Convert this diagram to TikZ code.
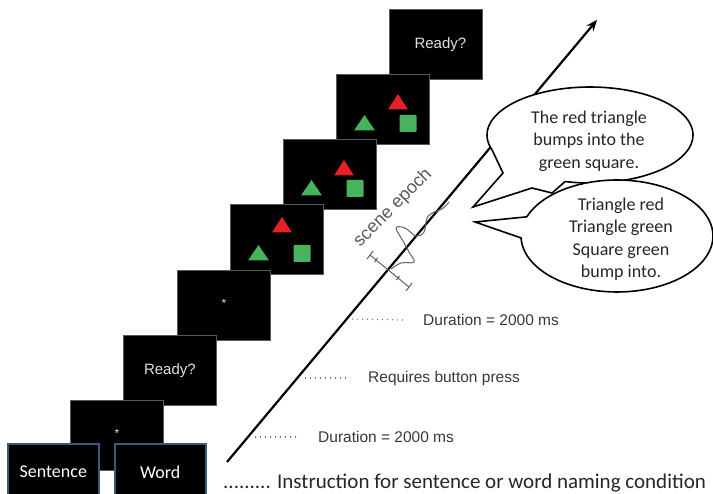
\documentclass[tikz,border=0pt]{standalone}
\usepackage{fontspec}
\setmainfont{Carlito}
\newfontfamily\arialf{Liberation Sans}
\usetikzlibrary{arrows.meta}
\definecolor{trired}{RGB}{230,32,40}
\definecolor{shapegreen}{RGB}{72,178,92}
\definecolor{boxedge}{RGB}{62,88,122}
\definecolor{labelgray}{RGB}{55,55,55}
\begin{document}
\begin{tikzpicture}[x=1pt,y=-1pt,
  screen/.style={draw=black!65, line width=0.8pt, fill=black, minimum width=93pt,
    minimum height=70pt, inner sep=0pt, anchor=north west, text=white!88!black,
    font=\arialf\fontsize{15}{18}\selectfont},
  starscreen/.style={screen, font=\arialf\fontsize{12}{14}\selectfont},
  condbox/.style={draw=boxedge, line width=1.6pt, fill=black, minimum width=91pt,
    minimum height=57pt, inner sep=0pt, anchor=north west, text=white,
    font=\fontsize{18}{22}\selectfont},
  bubble/.style={draw=black, line width=1.6pt, fill=white, line join=miter},
  bubbletext/.style={align=center, font=\fontsize{18}{22.5}\selectfont, text=black!85},
  tlabel/.style={anchor=west, inner sep=0pt, text=labelgray, font=\arialf\fontsize{15.5}{18}\selectfont},
  dotline/.style={draw=black!55, line width=1.1pt, dash pattern=on 1pt off 4pt},
  timeaxis/.style={line width=2.2pt, -{Stealth[length=11pt,width=9pt]}},
  wave/.style={draw=black!62, line width=1pt},
  pics/scene/.style n args={2}{code={
    \fill[trired] (#1,#2) -- ++(-10,15.5) -- ++(20,0) -- cycle;
    \fill[shapegreen] (28.5,41) -- ++(-10.5,15.5) -- ++(21,0) -- cycle;
    \fill[shapegreen, rounded corners=0.8pt] (63.5,41) rectangle (80.5,58);
  }}
]
\useasboundingbox (0,0) rectangle (713,494);
\clip (0,0) rectangle (713,494);

% screens, top-right to bottom-left
\node[screen] (s1) at (389,9) {\hspace*{9pt}Ready?};
\node[screen] (s2) at (336,74) {};
\pic at (s2.north west) {scene={62}{20}};
\node[screen] (s3) at (283,139) {};
\pic at (s3.north west) {scene={61}{21}};
\node[screen] (s4) at (230,204) {};
\pic at (s4.north west) {scene={52}{13}};
\node[starscreen] (s5) at (177,270) {\raisebox{4pt}{*}};
\node[screen] (s6) at (123,335) {Ready?};
\node[starscreen] (s7) at (70,400) {\raisebox{4pt}{*}};

% condition boxes
\node[condbox] (sent) at (7,443) {\raisebox{1pt}{Sentence}};
\node[condbox] (word) at (114,443) {\raisebox{1pt}{Word}};

% time axis
\coordinate (ax0) at (227,462);
\coordinate (ax1) at (597,20);
\draw[timeaxis] (ax0) -- (ax1);

% scene epoch sketch
\node[rotate=45, inner sep=0pt, text=black!65, font=\arialf\fontsize{18}{20}\selectfont] (epoch) at (393,208) {scene epoch};
\draw[wave] plot[smooth, tension=0.6] coordinates {(391,269) (401,263) (414,262) (409,252) (403,241) (396,228) (405,228) (416,236) (424,232) (427,218) (434,212) (442,209) (449,202)};
\coordinate (ya) at (370,255);
\coordinate (yb) at (409,287);
\draw[wave] (ya) -- (yb);
\draw[wave] (ya) ++(-3,4) -- ++(6,-8);
\draw[wave] (yb) ++(-3,4) -- ++(6,-8);
\draw[wave] (376,260) ++(-1.5,2) -- ++(3,-4);
\draw[wave] (398,278) ++(-1.5,2) -- ++(3,-4);

% dotted leaders and labels
\node[tlabel] (lab1) at (423,320) {Duration = 2000 ms};
\node[tlabel] (lab2) at (368,378) {Requires button press};
\node[tlabel] (lab3) at (318,437) {Duration = 2000 ms};
\coordinate (d1) at (352,319);
\coordinate (d2) at (305,378);
\coordinate (d3) at (255,437);
\draw[dotline] (d1) -- ([xshift=-20pt]lab1.west);
\draw[dotline] (d2) -- ([xshift=-18pt]lab2.west);
\draw[dotline] (d3) -- ([xshift=-18pt]lab3.west);

\node[anchor=west, inner sep=0pt, text=black!85, font=\fontsize{21}{24}\selectfont] (instr) at (223,483)
  {......... Instruction for sentence or word naming condition};

% speech bubbles
\draw[bubble] plot[domain=-198:104, samples=90, variable=\t] ({590+103*cos(\t)}, {135+48*sin(\t)})
  -- (552,193) -- (532,188) -- (473,207) -- (503,173) -- cycle;
\node[bubbletext] (b1) at (589,141) {The red triangle\\bumps into the\\green square.};
\draw[bubble] plot[domain=-160:178, samples=90, variable=\t] ({617+96*cos(\t)}, {236+56*sin(\t)})
  -- (475,222) -- cycle;
\node[bubbletext] (b2) at (621,239) {Triangle red\\Triangle green\\Square green\\bump into.};
\end{tikzpicture}
\end{document}
